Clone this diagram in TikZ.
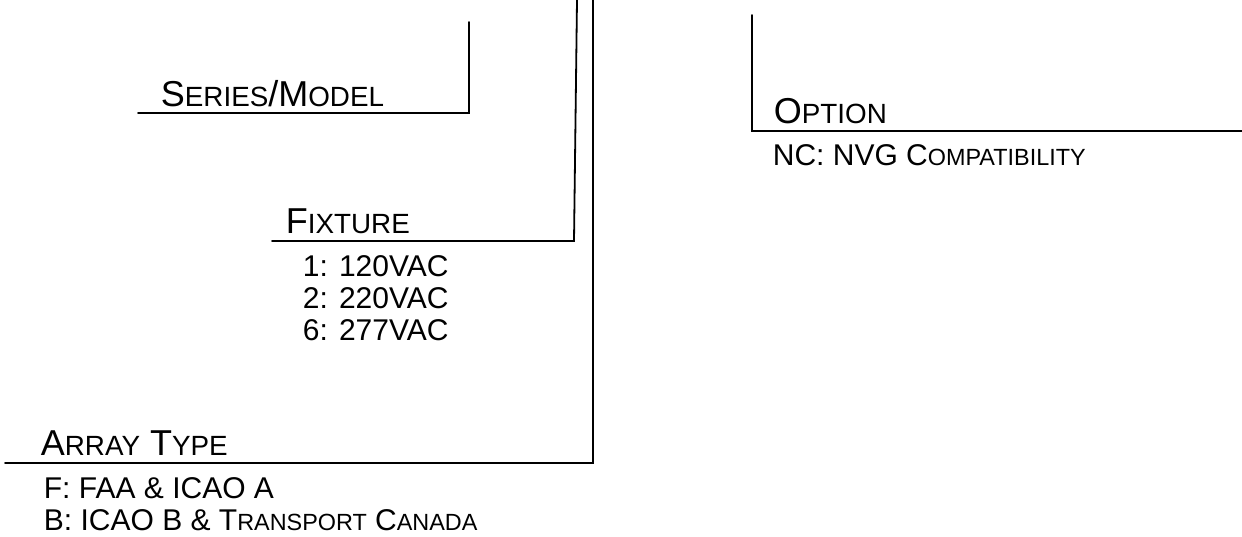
\documentclass[tikz,border=0pt]{standalone}
\usepackage{fontspec}
\setmainfont{Liberation Sans}
\usetikzlibrary{positioning}
\newcommand\hsml[1]{{\fontsize{13.9}{15}\selectfont #1}}
\newcommand\isml[1]{{\fontsize{11.7}{13}\selectfont #1}}

\begin{document}
\begin{tikzpicture}[x=0.5pt, y=-0.5pt, line width=0.9pt, line cap=round, head/.style={anchor=base west, inner sep=0pt, font=\fontsize{18}{20}\selectfont}, item/.style={anchor=base west, inner sep=0pt, font=\fontsize{15}{17}\selectfont}]
\useasboundingbox (0,0) rectangle (1242,536);
% leader corners
\coordinate (sertop) at (469,22);
\coordinate (sercorner) at (469,113);
\coordinate (serend) at (138,113);
\coordinate (fixtop) at (577,0);
\coordinate (fixcorner) at (574,241);
\coordinate (fixend) at (272,241);
\coordinate (arrtop) at (593,0);
\coordinate (arrcorner) at (593,463);
\coordinate (arrend) at (5,463);
\coordinate (opttop) at (752,15);
\coordinate (optcorner) at (752,131);
\coordinate (optend) at (1242,131);
\draw (sertop) -- (sercorner) -- (serend);
\draw (fixtop) -- (fixcorner) -- (fixend);
\draw (arrtop) -- (arrcorner) -- (arrend);
\draw (opttop) -- (optcorner) -- (optend);
% headings
\node[head] (series) at (160,106) {S\hsml{ERIES}/M\hsml{ODEL}};
\node[head] (fixture) at (285,233) {F\hsml{IXTURE}};
\node[head] (array) at (40,455) {A\hsml{RRAY} T\hsml{YPE}};
\node[head] (option) at (773,123) {O\hsml{PTION}};
% codes
\node[item] (fix1) at (302,276) {1: 120VAC};
\node[item] (fix2) at ([yshift=-16pt]fix1.base west) {2: 220VAC};
\node[item] (fix6) at ([yshift=-16pt]fix2.base west) {6: 277VAC};
\node[item] (arrF) at (43,498) {F: FAA \& ICAO A};
\node[item] (arrB) at ([yshift=-16pt]arrF.base west) {B: ICAO B \& T\isml{RANSPORT} C\isml{ANADA}};
\node[item] (optNC) at (772,165) {NC: NVG C\isml{OMPATIBILITY}};
\end{tikzpicture}
\end{document}
